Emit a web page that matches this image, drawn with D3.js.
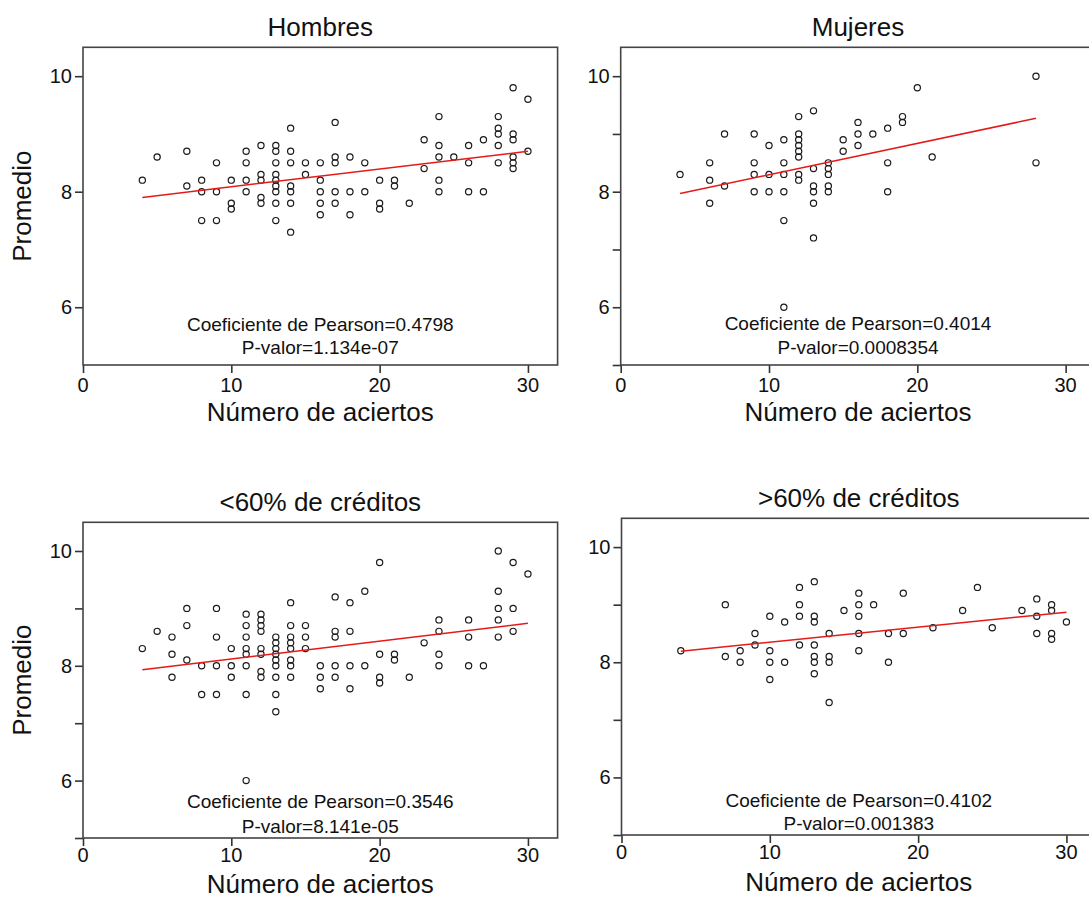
<!DOCTYPE html>
<html>
<head>
<meta charset="utf-8">
<script src="https://cdn.jsdelivr.net/npm/d3@7"></script>
<style>
  body { margin: 0; background: #fff; }
  text { font-family: "Liberation Sans", Arial, sans-serif; fill: #111; }
</style>
</head>
<body>
<div id="chart"></div>
<script>
// data: [numero de aciertos, promedio]
var hombres = [
  [4,8.2],[5,8.6],[7,8.7],[7,8.1],[8,8.2],[8,8.0],[8,7.5],[9,8.5],[9,8.0],[9,7.5],
  [10,8.2],[10,7.8],[10,7.7],[11,8.7],[11,8.5],[11,8.2],[11,8.0],
  [12,8.8],[12,8.3],[12,8.2],[12,7.9],[12,7.8],
  [13,8.8],[13,8.7],[13,8.5],[13,8.3],[13,8.2],[13,8.1],[13,8.0],[13,7.8],[13,7.5],
  [14,9.1],[14,8.7],[14,8.5],[14,8.1],[14,8.0],[14,7.8],[14,7.3],
  [15,8.5],[15,8.3],[16,8.5],[16,8.2],[16,8.0],[16,7.8],[16,7.6],
  [17,9.2],[17,8.6],[17,8.5],[17,8.0],[17,7.8],[18,8.6],[18,8.0],[18,7.6],
  [19,8.5],[19,8.0],[20,8.2],[20,7.8],[20,7.7],[21,8.2],[21,8.1],[22,7.8],
  [23,8.9],[23,8.4],[24,9.3],[24,8.8],[24,8.6],[24,8.2],[24,8.0],[25,8.6],
  [26,8.8],[26,8.5],[26,8.0],[27,8.9],[27,8.0],
  [28,9.3],[28,9.1],[28,9.0],[28,8.8],[28,8.5],
  [29,9.8],[29,9.0],[29,8.9],[29,8.6],[29,8.5],[29,8.4],[30,9.6],[30,8.7]
];
var mujeres = [
  [4,8.3],[6,8.5],[6,8.2],[6,7.8],[7,9.0],[7,8.1],[9,9.0],[9,8.5],[9,8.3],[9,8.0],
  [10,8.8],[10,8.3],[10,8.0],[11,8.9],[11,8.5],[11,8.3],[11,8.0],[11,7.5],[11,6.0],
  [12,9.3],[12,9.0],[12,8.9],[12,8.8],[12,8.7],[12,8.6],[12,8.3],[12,8.2],
  [13,9.4],[13,8.4],[13,8.1],[13,8.0],[13,7.8],[13,7.2],
  [14,8.5],[14,8.4],[14,8.3],[14,8.1],[14,8.0],[15,8.9],[15,8.7],
  [16,9.2],[16,9.0],[16,8.8],[17,9.0],[18,9.1],[18,8.5],[18,8.0],
  [19,9.3],[19,9.2],[20,9.8],[21,8.6],[28,10.0],[28,8.5]
];
var menos60 = [
  [4,8.3],[5,8.6],[6,8.5],[6,8.2],[6,7.8],[7,9.0],[7,8.7],[7,8.1],[8,8.0],[8,7.5],
  [9,9.0],[9,8.5],[9,8.0],[9,7.5],[10,8.3],[10,8.0],[10,7.8],
  [11,8.9],[11,8.7],[11,8.5],[11,8.3],[11,8.2],[11,8.0],[11,7.5],[11,6.0],
  [12,8.9],[12,8.8],[12,8.7],[12,8.6],[12,8.3],[12,8.2],[12,7.9],[12,7.8],
  [13,8.5],[13,8.4],[13,8.3],[13,8.2],[13,8.1],[13,8.0],[13,7.8],[13,7.5],[13,7.2],
  [14,9.1],[14,8.7],[14,8.5],[14,8.4],[14,8.3],[14,8.1],[14,8.0],[14,7.8],
  [15,8.7],[15,8.5],[15,8.3],[16,8.0],[16,7.8],[16,7.6],
  [17,9.2],[17,8.6],[17,8.5],[17,8.0],[17,7.8],[18,9.1],[18,8.6],[18,8.0],[18,7.6],
  [19,9.3],[19,8.0],[20,9.8],[20,8.2],[20,7.8],[20,7.7],[21,8.2],[21,8.1],[22,7.8],
  [23,8.4],[24,8.8],[24,8.6],[24,8.2],[24,8.0],[26,8.8],[26,8.5],[26,8.0],[27,8.0],
  [28,10.0],[28,9.3],[28,9.0],[28,8.8],[28,8.5],[29,9.8],[29,9.0],[29,8.6],[30,9.6]
];
var mas60 = [
  [4,8.2],[7,9.0],[7,8.1],[8,8.2],[8,8.0],[9,8.5],[9,8.3],
  [10,8.8],[10,8.2],[10,8.0],[10,7.7],[11,8.7],[11,8.0],
  [12,9.3],[12,9.0],[12,8.8],[12,8.3],
  [13,9.4],[13,8.8],[13,8.7],[13,8.3],[13,8.1],[13,8.0],[13,7.8],
  [14,8.5],[14,8.1],[14,8.0],[14,7.3],[15,8.9],
  [16,9.2],[16,9.0],[16,8.8],[16,8.5],[16,8.2],[17,9.0],[18,8.5],[18,8.0],
  [19,9.2],[19,8.5],[21,8.6],[23,8.9],[24,9.3],[25,8.6],[27,8.9],
  [28,9.1],[28,8.8],[28,8.5],[29,9.0],[29,8.9],[29,8.5],[29,8.4],[30,8.7]
];

// regression line ends
var fitHombres = [[4,7.90],[30,8.70]];
var fitMujeres = [[4,7.97],[28,9.27]];
var fitMenos60 = [[4,7.93],[30,8.74]];
var fitMas60 = [[4,8.19],[30,8.87]];

var titles = ["Hombres", "Mujeres", "<60% de créditos", ">60% de créditos"];
var pearson = ["0.4798", "0.4014", "0.3546", "0.4102"];
var pValues = ["1.134e-07", "0.0008354", "8.141e-05", "0.001383"];

var xTicks = [0, 10, 20, 30];
var yTicksFirst = [6, 8, 10];
var yTicksOther = [5, 6, 7, 8, 9, 10];

var svgWidth = 1089;
var svgHeight = 898;

var svg = d3.select("#chart")
  .append("svg")
  .attr("width", svgWidth)
  .attr("height", svgHeight);

// placement of each panel box on the page
var panels = [
  { pts: hombres, fit: fitHombres, left: 83, top: 47.3, bottom: 365, yTicks: yTicksFirst,
    coefY: 324, pY: 347.5, tickY: 385, labelY: 412, yLabel: true },
  { pts: mujeres, fit: fitMujeres, left: 620.7, top: 47.3, bottom: 365, yTicks: yTicksOther,
    coefY: 323, pY: 347.5, tickY: 385, labelY: 412, yLabel: false },
  { pts: menos60, fit: fitMenos60, left: 83, top: 522.3, bottom: 838, yTicks: yTicksOther,
    coefY: 801.5, pY: 826.5, tickY: 855, labelY: 884, yLabel: true },
  { pts: mas60, fit: fitMas60, left: 621.5, top: 518.3, bottom: 835, yTicks: yTicksOther,
    coefY: 800, pY: 823, tickY: 852, labelY: 882, yLabel: false }
];

var boxWidth = 474.6;

panels.forEach(function(p, i) {
  var x = d3.scaleLinear().domain([0, 32]).range([p.left, p.left + boxWidth]);
  var y = d3.scaleLinear().domain([5, 10.5]).range([p.bottom, p.top]);

  var g = svg.append("g");

  // axes
  var xAxis = d3.axisBottom(x).tickValues(xTicks).tickSize(8).tickSizeOuter(0).tickPadding(3);
  var gx = g.append("g")
    .attr("transform", `translate(0, ${p.bottom})`)
    .call(xAxis);
  gx.select(".domain").remove();
  gx.selectAll("line").attr("stroke", "#333").attr("stroke-width", 1.6);
  gx.selectAll("text").remove();
  g.selectAll(".xlab" + i)
    .data(xTicks)
    .enter()
    .append("text")
    .attr("x", d => x(d))
    .attr("y", p.tickY)
    .attr("dy", "0.35em")
    .style("text-anchor", "middle")
    .style("font-size", "20px")
    .text(d => d);

  var yAxis = d3.axisLeft(y).tickValues(p.yTicks).tickSize(8).tickSizeOuter(0).tickPadding(3)
    .tickFormat(d => d % 2 === 0 ? d : "");
  var gy = g.append("g")
    .attr("transform", `translate(${p.left}, 0)`)
    .call(yAxis);
  gy.select(".domain").remove();
  gy.selectAll("line").attr("stroke", "#333").attr("stroke-width", 1.6);
  gy.selectAll("text")
    .style("font-size", "20px")
    .style("font-family", "'Liberation Sans', Arial, sans-serif")
    .attr("fill", "#111");

  // box
  g.append("rect")
    .attr("x", p.left)
    .attr("y", p.top)
    .attr("width", boxWidth)
    .attr("height", p.bottom - p.top)
    .attr("fill", "none")
    .attr("stroke", "#444")
    .attr("stroke-width", 1.6);

  // points
  g.selectAll(".pt" + i)
    .data(p.pts)
    .enter()
    .append("circle")
    .attr("cx", d => x(d[0]))
    .attr("cy", d => y(d[1]))
    .attr("r", 3.1)
    .attr("fill", "none")
    .attr("stroke", "#1a1a1a")
    .attr("stroke-width", 1.2);

  // fitted line
  g.append("path")
    .datum(p.fit)
    .attr("d", d3.line().x(d => x(d[0])).y(d => y(d[1])))
    .attr("stroke", "#e41a1a")
    .attr("stroke-width", 1.5)
    .attr("fill", "none");

  // annotation
  g.append("text")
    .attr("x", x(16))
    .attr("y", p.coefY)
    .attr("dy", "0.35em")
    .style("text-anchor", "middle")
    .style("font-size", "19px")
    .text("Coeficiente de Pearson=" + pearson[i]);
  g.append("text")
    .attr("x", x(16))
    .attr("y", p.pY)
    .attr("dy", "0.35em")
    .style("text-anchor", "middle")
    .style("font-size", "19px")
    .text("P-valor=" + pValues[i]);

  // title and axis labels
  g.append("text")
    .attr("x", x(16))
    .attr("y", p.top - 20)
    .attr("dy", "0.35em")
    .style("text-anchor", "middle")
    .style("font-size", "26px")
    .text(titles[i]);

  g.append("text")
    .attr("x", x(16))
    .attr("y", p.labelY)
    .attr("dy", "0.35em")
    .style("text-anchor", "middle")
    .style("font-size", "26px")
    .text("Número de aciertos");

  if (p.yLabel) {
    g.append("text")
      .attr("transform", `translate(22, ${(p.top + p.bottom) / 2}) rotate(-90)`)
      .attr("dy", "0.35em")
      .style("text-anchor", "middle")
      .style("font-size", "26px")
      .text("Promedio");
  }
});
</script>
</body>
</html>
